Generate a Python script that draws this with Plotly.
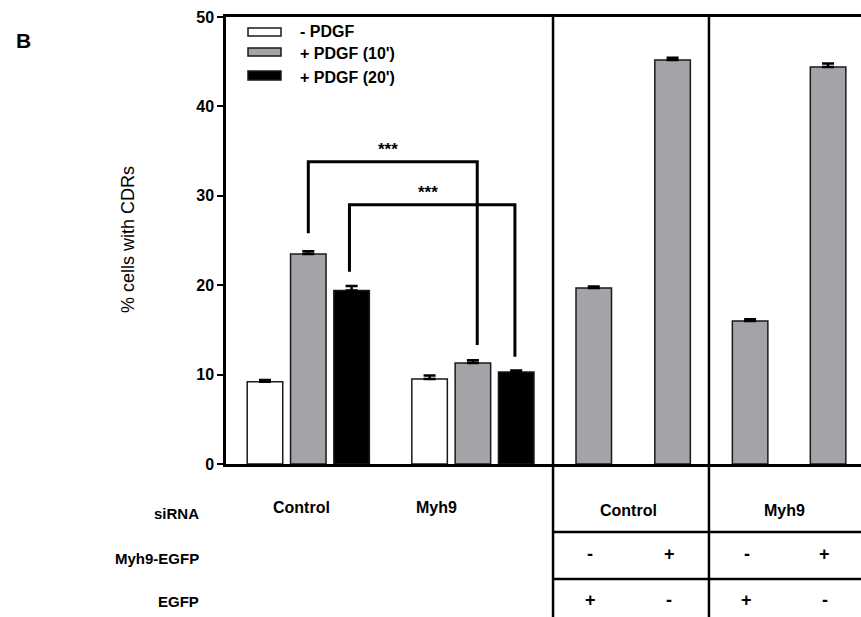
import plotly.graph_objects as go

# ---------------- data ----------------
left_sirna = ["Control", "Myh9"]
series_names = ["- PDGF", "+ PDGF (10')", "+ PDGF (20')"]
minus_pdgf = [9.2, 9.5]
minus_pdgf_err = [0.2, 0.4]
pdgf_10 = [23.5, 11.3]
pdgf_10_err = [0.3, 0.3]
pdgf_20 = [19.4, 10.3]
pdgf_20_err = [0.5, 0.15]

rescue_sirna = ["Control", "Myh9"]
rescue_myh9_egfp = ["-", "+", "-", "+"]
rescue_egfp = ["+", "-", "+", "-"]
rescue_vals = [19.7, 45.2, 16.0, 44.4]
rescue_err = [0.15, 0.25, 0.2, 0.4]

y_ticks = [0, 10, 20, 30, 40, 50]
row_labels = ["siRNA", "Myh9-EGFP", "EGFP"]
signif = ["***", "***"]

# ---------------- layout helpers ----------------
FONT = "Liberation Sans, Arial, sans-serif"
WHITE, GRAY, BLACK = "#ffffff", "#a4a3a8", "#000000"
series_colors = [WHITE, GRAY, BLACK]
OUTLINE = "#1a1a1a"

L, R, T, B = 226, 0, 17, 153
W, H = 861, 617
plot_w = W - L - R
plot_h = H - T - B

bar_w = 0.82
first_center = 0.9
cluster_step = 3.8           # distance between left clusters
left_centers = [[first_center + c * cluster_step + s for c in range(2)] for s in range(3)]
left_label_shift = [-0.15, -0.85]   # label offsets from cluster centre
div1 = 7.55
div2 = 11.15
rescue_centers = [8.49, 10.31, 12.1, 13.9]
x_max = 14.66

def py(pix):  # figure pixel row -> paper y
    return (H - B - pix) / plot_h

def px(pix):  # figure pixel column -> paper x
    return (pix - L) / plot_w

fig = go.Figure()

left_vals = [minus_pdgf, pdgf_10, pdgf_20]
left_errs = [minus_pdgf_err, pdgf_10_err, pdgf_20_err]
for i, name in enumerate(series_names):
    fig.add_trace(go.Bar(
        x=left_centers[i], y=left_vals[i], name=name, width=bar_w,
        marker=dict(color=series_colors[i], line=dict(color=OUTLINE, width=1.5)),
        error_y=dict(type="data", array=left_errs[i], arrayminus=[0] * 2,
                     color="black", thickness=2.5, width=6),
        showlegend=False,
    ))

fig.add_trace(go.Bar(
    x=rescue_centers, y=rescue_vals, name="rescue", width=bar_w,
    marker=dict(color=GRAY, line=dict(color=OUTLINE, width=1.5)),
    error_y=dict(type="data", array=rescue_err, arrayminus=[0] * 4,
                 color="black", thickness=2.5, width=6),
    showlegend=False,
))

shapes = []
line = dict(color="black", width=2.5)
# panel dividers running into the table
for d in (div1, div2):
    shapes.append(dict(type="line", xref="x", yref="paper", x0=d, x1=d,
                       y0=py(H), y1=1, line=line))
# table horizontal rules
for ypix in (532, 579):
    shapes.append(dict(type="line", xref="x", yref="paper", x0=div1, x1=x_max,
                       y0=py(ypix), y1=py(ypix), line=line))

# significance brackets: (x_left, x_right, y_top, y_left_end, y_right_end)
brackets = [
    (1.9, 5.8, 33.8, 25.8, 13.3),
    (2.85, 6.67, 29.0, 21.5, 12.0),
]
annotations = []
for (xl, xr, yt, yl, yr), s in zip(brackets, signif):
    shapes.append(dict(type="path", xref="x", yref="y",
                       path=f"M{xl},{yl} L{xl},{yt} L{xr},{yt} L{xr},{yr}",
                       line=dict(color="black", width=3)))
    annotations.append(dict(x=(xl + xr) / 2 - 0.1, y=yt + 0.1, xref="x", yref="y",
                            text=f"<b>{s}</b>", showarrow=False, yanchor="bottom",
                            xanchor="center",
                            font=dict(family=FONT, size=17, color="black")))

# custom legend
legend_rows = [(28, 36, 31), (48, 56, 53), (71, 80, 77)]
for (y0, y1, yt), name, col in zip(legend_rows, series_names, series_colors):
    shapes.append(dict(type="rect", xref="paper", yref="paper",
                       x0=px(248), x1=px(281), y0=py(y1), y1=py(y0),
                       fillcolor=col, line=dict(color=OUTLINE, width=1.5)))
    annotations.append(dict(x=px(298), y=py(yt), xref="paper", yref="paper",
                            text=f"<b>{name}</b>", showarrow=False,
                            xanchor="left", yanchor="middle",
                            font=dict(family=FONT, size=16, color="black")))

# table text
tf = dict(family=FONT, size=16, color="black")
rf = dict(family=FONT, size=15, color="black")
for lab, ypix in zip(row_labels, (513, 558, 601)):
    annotations.append(dict(x=px(201), y=py(ypix), xref="paper", yref="paper",
                            text=f"<b>{lab}</b>", showarrow=False,
                            xanchor="right", yanchor="middle", font=rf))
for c, lab in enumerate(left_sirna):
    xc = sum(left_centers[s][c] for s in range(3)) / 3 + left_label_shift[c]
    annotations.append(dict(x=xc, y=py(508), xref="x", yref="paper",
                            text=f"<b>{lab}</b>", showarrow=False,
                            xanchor="center", yanchor="middle", font=tf))
for k, lab in enumerate(rescue_sirna):
    xc = (rescue_centers[2 * k] + rescue_centers[2 * k + 1]) / 2 - 0.1
    annotations.append(dict(x=xc, y=py(510), xref="x", yref="paper",
                            text=f"<b>{lab}</b>", showarrow=False,
                            xanchor="center", yanchor="middle", font=tf))
sf = dict(family=FONT, size=18, color="black")
for i, xc in enumerate(rescue_centers):
    annotations.append(dict(x=xc - 0.08, y=py(554), xref="x", yref="paper",
                            text=f"<b>{rescue_myh9_egfp[i]}</b>", showarrow=False,
                            xanchor="center", yanchor="middle", font=sf))
    annotations.append(dict(x=xc - 0.08, y=py(600), xref="x", yref="paper",
                            text=f"<b>{rescue_egfp[i]}</b>", showarrow=False,
                            xanchor="center", yanchor="middle", font=sf))

# y title & panel letter
annotations.append(dict(x=px(128), y=py(240), xref="paper", yref="paper",
                        text="% cells with CDRs", textangle=-90, showarrow=False,
                        xanchor="center", yanchor="middle",
                        font=dict(family=FONT, size=18, color="black")))
annotations.append(dict(x=px(24), y=py(40), xref="paper", yref="paper",
                        text="<b>B</b>", showarrow=False,
                        xanchor="center", yanchor="middle",
                        font=dict(family=FONT, size=21, color="black")))

fig.update_layout(
    width=W, height=H,
    margin=dict(l=L, r=R, t=T, b=B, pad=0),
    paper_bgcolor="white", plot_bgcolor="white",
    barmode="overlay",
    shapes=shapes, annotations=annotations,
    xaxis=dict(range=[0, x_max], showgrid=False, zeroline=False,
               showticklabels=False, ticks="", showline=True, mirror=True,
               linecolor="black", linewidth=2.5),
    yaxis=dict(range=[0, 50], tickvals=y_ticks, showgrid=False, zeroline=False,
               showline=True, linecolor="black", linewidth=2.5,
               ticks="outside", ticklen=6, tickwidth=2, tickcolor="black",
               tickfont=dict(family=FONT, size=16, color="black", weight="bold")),
)

fig.write_html(
    "out.html",
    config={"displayModeBar": False},
    post_script="document.body.style.margin='0';document.body.style.overflow='hidden';",
)
